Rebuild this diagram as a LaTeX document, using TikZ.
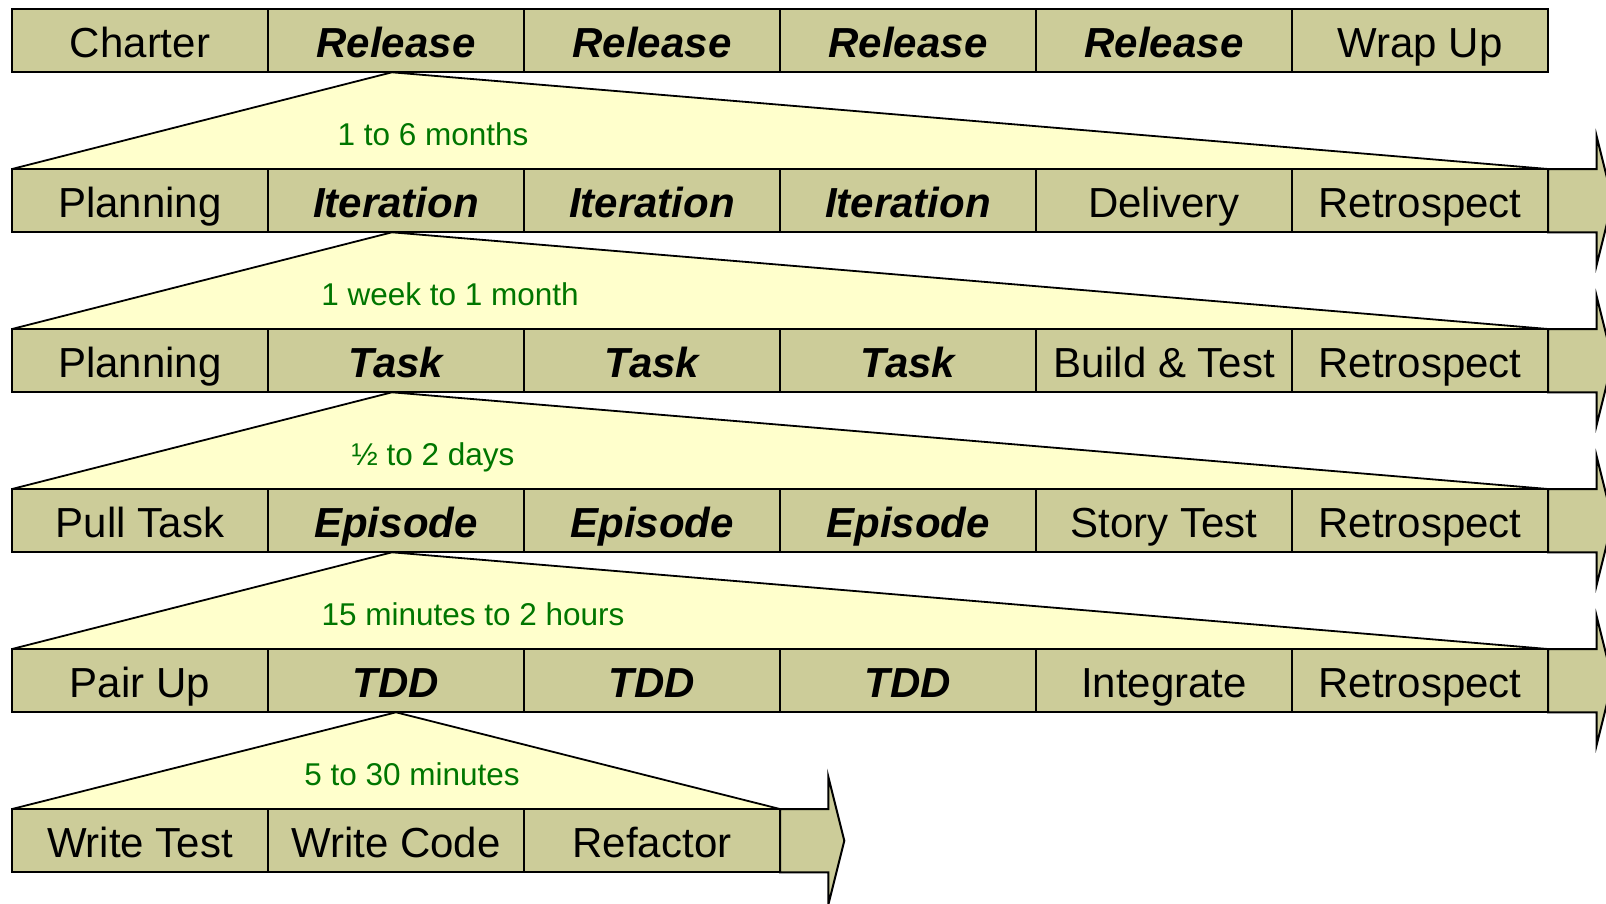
\documentclass[tikz,border=0pt]{standalone}
\usepackage{fontspec}
\setmainfont{Liberation Sans}
\usetikzlibrary{calc,backgrounds}
\definecolor{cellfill}{RGB}{204,204,153}
\definecolor{zoomfill}{RGB}{255,255,204}
\definecolor{spanink}{RGB}{0,118,0}
\begin{document}
\begin{tikzpicture}[x=1pt,y=-1pt,
  cell/.style={rectangle, draw=black, line width=2pt, fill=cellfill,
    minimum width=256pt, minimum height=63.3pt, inner sep=0pt, outer sep=0pt,
    font=\fontsize{42}{48}\selectfont, text height=33.4pt, text depth=0pt},
  keycell/.style={cell, font=\fontsize{42}{48}\selectfont\bfseries\itshape},
  spanlabel/.style={text=spanink, font=\fontsize{31.5}{36}\selectfont,
    inner sep=0pt, text height=22.5pt, text depth=0pt},
  wedgefill/.style={fill=zoomfill},
  wedgeline/.style={draw=black, line width=1.8pt, line join=round},
  flow/.style={draw=black, fill=cellfill, line width=2pt, line join=miter}
]
\useasboundingbox (0,0) rectangle (1606,903);
\clip (0,0) rectangle (1606,903);

% row 0: project
\node[cell]    (r0c1) at (140,40.65) {Charter};
\node[keycell] (r0c2) at (396,40.65) {Release};
\node[keycell] (r0c3) at (652,40.65) {Release};
\node[keycell] (r0c4) at (908,40.65) {Release};
\node[keycell] (r0c5) at (1164,40.65) {Release};
\node[cell]    (r0c6) at (1420,40.65) {Wrap Up};

% row 1: release
\node[cell]    (r1c1) at (140,200.65) {Planning};
\node[keycell] (r1c2) at (396,200.65) {Iteration};
\node[keycell] (r1c3) at (652,200.65) {Iteration};
\node[keycell] (r1c4) at (908,200.65) {Iteration};
\node[cell]    (r1c5) at (1164,200.65) {Delivery};
\node[cell]    (r1c6) at (1420,200.65) {Retrospect};

% row 2: iteration
\node[cell]    (r2c1) at (140,360.65) {Planning};
\node[keycell] (r2c2) at (396,360.65) {Task};
\node[keycell] (r2c3) at (652,360.65) {Task};
\node[keycell] (r2c4) at (908,360.65) {Task};
\node[cell]    (r2c5) at (1164,360.65) {Build \& Test};
\node[cell]    (r2c6) at (1420,360.65) {Retrospect};

% row 3: task
\node[cell]    (r3c1) at (140,520.65) {Pull Task};
\node[keycell] (r3c2) at (396,520.65) {Episode};
\node[keycell] (r3c3) at (652,520.65) {Episode};
\node[keycell] (r3c4) at (908,520.65) {Episode};
\node[cell]    (r3c5) at (1164,520.65) {Story Test};
\node[cell]    (r3c6) at (1420,520.65) {Retrospect};

% row 4: episode
\node[cell]    (r4c1) at (140,680.65) {Pair Up};
\node[keycell] (r4c2) at (396,680.65) {TDD};
\node[keycell] (r4c3) at (652,680.65) {TDD};
\node[keycell] (r4c4) at (908,680.65) {TDD};
\node[cell]    (r4c5) at (1164,680.65) {Integrate};
\node[cell]    (r4c6) at (1420,680.65) {Retrospect};

% row 5: TDD cycle
\node[cell] (r5c1) at (140,840.65) {Write Test};
\node[cell] (r5c2) at (396,840.65) {Write Code};
\node[cell] (r5c3) at (652,840.65) {Refactor};

% arrow heads continuing each timeline
\foreach \r in {1,...,4}
  \draw[flow] (r\r c6.north east) -- ++(48.7,0) -- ++(0,-32.35) -- ++(16,64)
    -- ++(-16,64) -- ++(0,-32.35) -- (r\r c6.south east) -- cycle;
\draw[flow] (r5c3.north east) -- ++(48.3,0) -- ++(0,-32.35) -- ++(16,64)
  -- ++(-16,64) -- ++(0,-32.35) -- (r5c3.south east) -- cycle;

% zoom wedges behind the rows
\begin{pgfonlayer}{background}
  \fill[white] (0,0) rectangle (1606,903);
  \foreach \r [evaluate=\r as \n using int(\r+1)] in {0,...,3} {
    \fill[wedgefill] ($(r\r c2.south)+(-4,0)$) -- (r\n c1.north west)
      -- (r\n c6.north east) -- cycle;
    \draw[wedgeline] (r\n c1.north west) -- ($(r\r c2.south)+(-4,0)$)
      -- (r\n c6.north east);
  }
  \fill[wedgefill] (r4c2.south) -- (r5c1.north west) -- (r5c3.north east) -- cycle;
  \draw[wedgeline] (r5c1.north west) -- (r4c2.south) -- (r5c3.north east);
\end{pgfonlayer}

% durations
\node[spanlabel] (d1) at (433,134) {1 to 6 months};
\node[spanlabel] (d2) at (450,294) {1 week to 1 month};
\node[spanlabel] (d3) at (433,454) {½ to 2 days};
\node[spanlabel] (d4) at (473,614) {15 minutes to 2 hours};
\node[spanlabel] (d5) at (412,774) {5 to 30 minutes};
\end{tikzpicture}
\end{document}
